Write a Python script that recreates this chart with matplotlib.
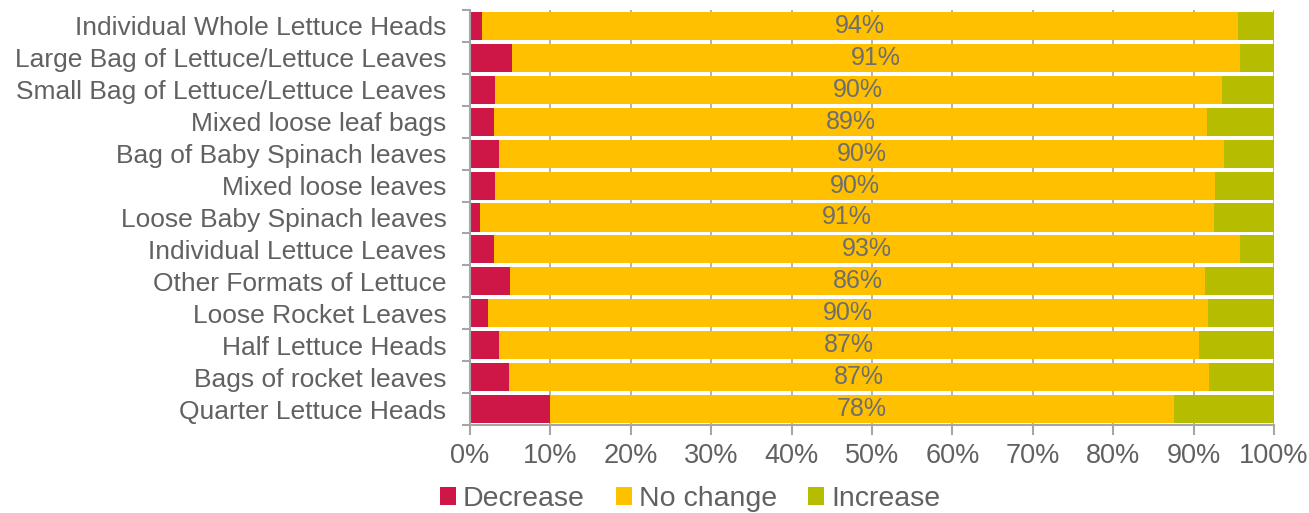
import numpy as np
import matplotlib.pyplot as plt

plt.rcParams['font.family'] = ['Liberation Sans', 'DejaVu Sans']

categories = ['Individual Whole Lettuce Heads',
              'Large Bag of Lettuce/Lettuce Leaves',
              'Small Bag of Lettuce/Lettuce Leaves',
              'Mixed loose leaf bags',
              'Bag of Baby Spinach leaves',
              'Mixed loose leaves',
              'Loose Baby Spinach leaves',
              'Individual Lettuce Leaves',
              'Other Formats of Lettuce',
              'Loose Rocket Leaves',
              'Half Lettuce Heads',
              'Bags of rocket leaves',
              'Quarter Lettuce Heads']
decrease = [1.5, 5.2, 3.1, 3.0, 3.6, 3.1, 1.3, 3.0, 5.0, 2.2, 3.6, 4.9, 9.9]
no_change = [94.0, 90.6, 90.4, 88.7, 90.2, 89.6, 91.2, 92.8, 86.4, 89.6, 87.1, 87.0, 77.6]
increase = [4.5, 4.2, 6.5, 8.3, 6.2, 7.3, 7.5, 4.2, 8.6, 8.2, 9.3, 8.1, 12.5]

colors = {'Decrease': '#CE1747', 'No change': '#FFC000', 'Increase': '#B6BD00'}
text_col = '#616161'
grid_col = '#A6A6A6'

fig = plt.figure(figsize=(13.09, 5.13), dpi=100)
ax = fig.add_axes([470 / 1309, 1 - 425 / 513, 804 / 1309, 415 / 513])

y = np.arange(len(categories))
dec = np.array(decrease)
noc = np.array(no_change)
inc = np.array(increase)
h = 0.88
ax.barh(y, dec, height=h, color=colors['Decrease'], label='Decrease', zorder=2)
ax.barh(y, noc, left=dec, height=h, color=colors['No change'], label='No change', zorder=2)
ax.barh(y, inc, left=dec + noc, height=h, color=colors['Increase'], label='Increase', zorder=2)

for yi, d, n in zip(y, dec, noc):
    ax.text(d + n / 2, yi, f'{n:.0f}%', ha='center', va='center',
            fontsize=18, color='#6E6E6E', zorder=3)

ax.set_xlim(0, 100)
ax.set_ylim(len(categories) - 0.5, -0.5)
ax.set_xticks(np.arange(0, 101, 10))
ax.set_xticklabels([f'{v}%' for v in range(0, 101, 10)])
ax.set_yticks(y)
ax.set_yticklabels(categories)
ax.set_yticks(np.arange(-0.5, len(categories), 1), minor=True)
ax.tick_params(axis='y', which='major', length=0, pad=17, labelsize=19, labelcolor=text_col)
ax.tick_params(axis='y', which='minor', length=6, color=grid_col, width=1.5)
ax.tick_params(axis='x', length=7, color=grid_col, width=1.5, pad=6,
               labelsize=19.5, labelcolor=text_col)
ax.xaxis.grid(True, color=grid_col, lw=1.2, zorder=0)
ax.set_axisbelow(True)
for s in ['top', 'right']:
    ax.spines[s].set_visible(False)
for s in ['left', 'bottom']:
    ax.spines[s].set_color(grid_col)
    ax.spines[s].set_linewidth(1.5)

fig.legend(loc='center', bbox_to_anchor=(690 / 1309, 1 - 499 / 513), ncol=3,
           frameon=False, fontsize=20.5, handlelength=0.55, handleheight=0.55,
           handletextpad=0.25, columnspacing=1.1, labelcolor=text_col,
           borderaxespad=0, borderpad=0)

fig.savefig('out.png', dpi=100)
